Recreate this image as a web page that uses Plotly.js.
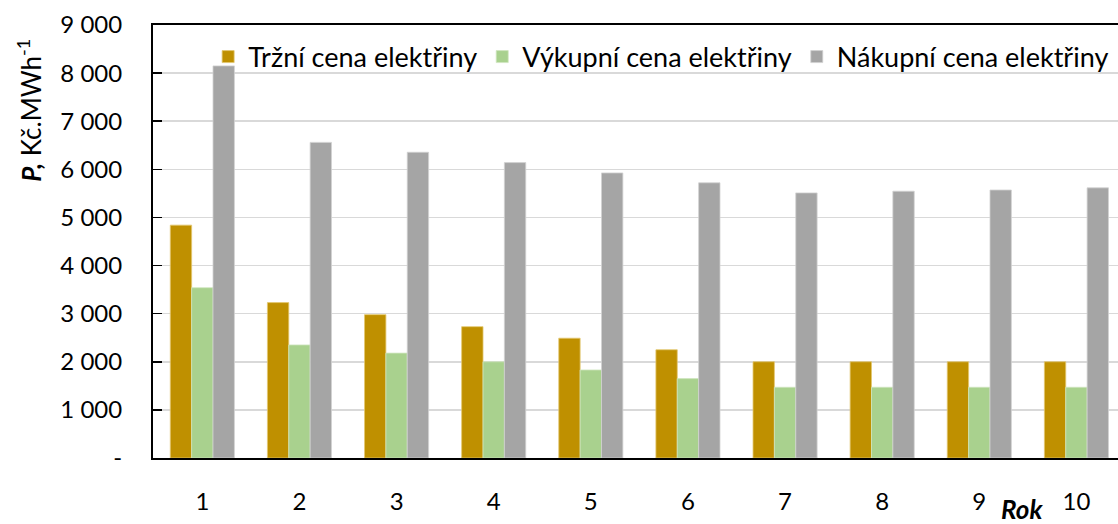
<!DOCTYPE html>
<html>
<head>
<meta charset="utf-8">
<script src="https://cdn.plot.ly/plotly-3.0.1.min.js"></script>
<style>html,body{margin:0;padding:0;background:#fff;}#chart{width:1118px;height:524px;}</style>
</head>
<body>
<div id="chart"></div>
<script>
const years = ["1", "2", "3", "4", "5", "6", "7", "8", "9", "10"];
const trzniCena = [4840, 3230, 2980, 2730, 2490, 2250, 2000, 2000, 2000, 2000];
const vykupniCena = [3540, 2350, 2180, 2000, 1830, 1650, 1470, 1470, 1470, 1470];
const nakupniCena = [8150, 6560, 6355, 6140, 5925, 5720, 5510, 5545, 5570, 5615];
const seriesNames = ["Tržní cena elektřiny", "Výkupní cena elektřiny", "Nákupní cena elektřiny"];
const yTickVals = [0, 1000, 2000, 3000, 4000, 5000, 6000, 7000, 8000, 9000];
const yTickText = ["-", "1 000", "2 000", "3 000", "4 000", "5 000", "6 000", "7 000", "8 000", "9 000"];
const yTitle = "<b><i>P,</i></b> Kč.MWh<sup>-1</sup>";
const xTitle = "<b><i>Rok</i></b>";

const FONT = "Lato, 'Open Sans', sans-serif";
const colors = ["#BF9000", "#A9D18E", "#A5A5A5"];
const lineColors = ["#E3C870", "#CFE6BF", "#D2D2D2"];
const values = [trzniCena, vykupniCena, nakupniCena];

const data = values.map((v, i) => ({
  type: "bar",
  x: years,
  y: v,
  name: seriesNames[i],
  marker: {color: colors[i], line: {color: lineColors[i], width: 0.8}},
  hoverinfo: "x+y+name"
}));

const layout = {
  width: 1118,
  height: 524,
  margin: {l: 153, r: 0, t: 25, b: 66, pad: 0},
  paper_bgcolor: "#ffffff",
  plot_bgcolor: "#ffffff",
  font: {family: FONT, size: 24, color: "#000000"},
  barmode: "group",
  bargap: 0.34,
  bargroupgap: 0,
  showlegend: true,
  legend: {
    orientation: "h",
    x: 0.996, xanchor: "right",
    y: 0.926, yanchor: "middle",
    bgcolor: "rgba(0,0,0,0)",
    font: {family: FONT, size: 27, color: "#000"},
    itemwidth: 30,
    traceorder: "normal"
  },
  xaxis: {
    type: "category",
    range: [-0.508, 9.428],
    showline: true,
    linecolor: "#000",
    linewidth: 2,
    mirror: true,
    ticks: "",
    showgrid: false,
    zeroline: false,
    tickfont: {family: FONT, size: 24, color: "#000"},
    ticklabelstandoff: 21,
    fixedrange: true
  },
  yaxis: {
    range: [0, 9000],
    tickvals: yTickVals,
    ticktext: yTickText,
    showline: true,
    linecolor: "#000",
    linewidth: 2,
    ticks: "inside",
    ticklen: 9,
    tickwidth: 1.5,
    tickcolor: "#000",
    showgrid: true,
    gridcolor: "#D9D9D9",
    gridwidth: 1.5,
    zeroline: false,
    tickfont: {family: FONT, size: 24, color: "#000"},
    ticklabelstandoff: 24,
    fixedrange: true
  },
  annotations: [
    {
      text: yTitle,
      xref: "paper", yref: "paper",
      x: -0.128, y: 0.803,
      xanchor: "center", yanchor: "middle",
      textangle: -90,
      showarrow: false,
      font: {family: FONT, size: 26, color: "#000"}
    },
    {
      text: xTitle,
      xref: "paper", yref: "paper",
      x: 0.901, y: -0.117,
      xanchor: "center", yanchor: "middle",
      showarrow: false,
      font: {family: FONT, size: 26, color: "#000"}
    }
  ]
};

Plotly.newPlot("chart", data, layout, {staticPlot: true, displayModeBar: false});
</script>
</body>
</html>
